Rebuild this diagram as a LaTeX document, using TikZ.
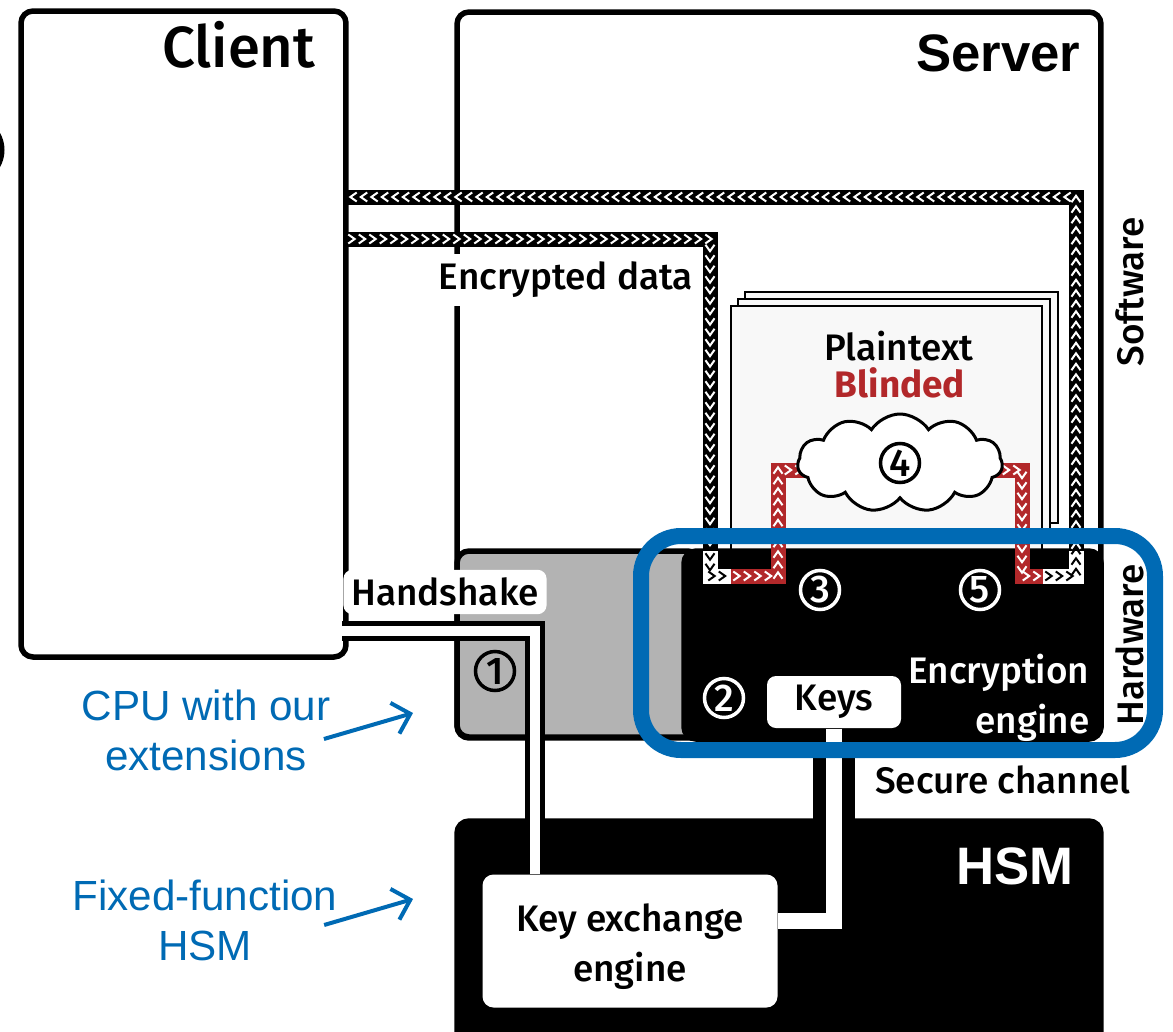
\documentclass[tikz,border=0pt]{standalone}
\usepackage{fontspec}
\usetikzlibrary{arrows.meta, positioning, calc, shapes.symbols, decorations.markings}
\newfontfamily\dinfont{Fira Sans}[UprightFont={* Medium}, BoldFont={* Bold}]
\newfontfamily\arialfont{Liberation Sans}
\definecolor{azulcpu}{RGB}{0, 106, 180}
\definecolor{rojociego}{RGB}{178, 40, 42}
\definecolor{grischip}{RGB}{179, 179, 179}
\definecolor{papel}{RGB}{248, 248, 248}

\begin{document}
\begin{tikzpicture}[
        x=0.1mm, y=-0.1mm,
        caja/.style={
            rectangle,
            rounded corners=1.2mm,
            draw=black,
            line width=0.55mm,
            fill=white,
            inner sep=0pt,
            outer sep=0pt,
            anchor=north west
        },
        hoja/.style={
            rectangle,
            draw=black,
            line width=0.27mm,
            fill=papel,
            inner sep=0pt,
            outer sep=0pt,
            anchor=north west
        },
        pastilla/.style={
            rectangle,
            rounded corners=0.9mm,
            fill=white,
            inner sep=0pt,
            align=center,
            font=\dinfont\fontsize{10.5}{14.2}\selectfont
        },
        texto/.style={inner sep=0pt, align=center, font=\dinfont\fontsize{10.5}{14.2}\selectfont},
        titulo/.style={inner sep=0pt, anchor=east, font=\arialfont\bfseries\fontsize{15}{18}\selectfont},
        nota/.style={inner sep=0pt, align=center, text=azulcpu, font=\arialfont\fontsize{12}{14.2}\selectfont},
        numero/.style={circle, draw, line width=0.35mm, minimum size=3.9mm, inner sep=0pt, font=\dinfont\fontsize{11}{11}\selectfont},
        canal/.style 2 args={
            draw=#1,
            line width=1.5mm,
            postaction={decorate, decoration={markings,
                mark=between positions 0.55mm and 1 step 1.05mm with {
                    \draw[#2, line width=0.2mm] (-0.32mm,0.45mm) -- (0.32mm,0mm) -- (-0.32mm,-0.45mm);
                }}}
        },
        cable/.style={draw=black, line width=0.5mm, double=white, double distance=1mm},
        cableseguro/.style={draw=black, line width=1.3mm, double=white, double distance=1.6mm},
        flecha/.style={-{Straight Barb[length=1.6mm, width=3.2mm]}, line width=0.4mm, draw=azulcpu}
    ]
    \useasboundingbox (0,0) rectangle (1173,1032);

    \begin{scope}
        \clip (0,100) rectangle (40,200);
        \draw[line width=0.5mm] (-30,150) circle[radius=3.2mm];
    \end{scope}

    \node[caja, minimum width=32.5mm, minimum height=64.6mm] (cliente) at (21,11) {};
    \node[caja, minimum width=64.4mm, minimum height=72.6mm] (servidor) at (457,12) {};
    \node[font=\dinfont\fontsize{16.5}{18}\selectfont, anchor=east, inner sep=0pt] (tcliente) at (316,45) {Client};
    \node[titulo] (tservidor) at (1081,53) {Server};

    \node[hoja, minimum width=31.3mm, minimum height=23.1mm] (hoja3) at (745,292) {};
    \node[hoja, minimum width=31.2mm, minimum height=23.8mm] (hoja2) at (738,299) {};
    \node[hoja, minimum width=31.1mm, minimum height=24.5mm] (hoja1) at (731,306) {};

    \node[caja, fill=grischip, minimum width=24.3mm, minimum height=18.6mm] (cpu) at (457,551) {};
    \node[caja, fill=black, minimum width=41.7mm, minimum height=18.8mm] (motor) at (684,551) {};

    \coordinate (ent0) at (cliente.east |- 0,239);
    \coordinate (ent1) at (710,239);
    \coordinate (ent2) at (710,551);
    \coordinate (ent3) at (731,576);
    \coordinate (ent4) at (778,470);
    \coordinate (ent5) at (812,470);
    \coordinate (sal0) at (990,470);
    \coordinate (sal1) at (1022,470);
    \coordinate (sal2) at (1043,576);
    \coordinate (sal3) at (1076,551);
    \coordinate (sal4) at (cliente.east |- 0,197);

    \draw[canal={black}{white}] (ent0) -- (ent1) -- (ent2);
    \draw[canal={white}{black}] (ent2) |- (ent3);
    \draw[canal={rojociego}{white}] (ent3) -| (ent4) -- (ent5);
    \draw[canal={rojociego}{white}] (sal0) -- (sal1) |- (sal2);
    \draw[canal={white}{black}] (sal2) -| (sal3);
    \draw[canal={black}{white}] (sal3) |- (sal4);

    \node[cloud, cloud puffs=11, cloud puff arc=115, aspect=2.1, draw, line width=0.3mm, fill=white, minimum width=20.5mm, minimum height=9.8mm, inner sep=0pt] (nube) at (900,463) {};
    \node[numero] (n4) at (nube.center) {4};

    \node[caja, fill=black, minimum width=64.4mm, minimum height=25mm] (hsm) at (457,821) {};
    \node[titulo, text=white] (thsm) at (1074,866) {HSM};

    \node[pastilla, minimum width=13.4mm, minimum height=5.2mm] (claves) at (834,702) {Keys};
    \node[pastilla, rounded corners=1.1mm, minimum width=29.5mm, minimum height=13.3mm] (kex) at (630,941) {};
    \node[texto] (tkex) at (630,947) {Key exchange\\engine};

    \coordinate (hs0) at (342,631);
    \draw[cable] (hs0) -| ([xshift=-9.5mm]kex.north);
    \draw[cableseguro] (claves.south) |- ([yshift=2mm]kex.east);

    \node[pastilla, inner sep=0.8mm] (handshake) at (445,592) {Handshake};
    \node[texto, fill=white, inner sep=0.8mm] (cifrado) at (566,280) {Encrypted data};
    \node[texto, rotate=90] (software) at (1130,292) {Software};
    \node[texto, rotate=90] (hardware) at (1130,645) {Hardware};
    \node[texto] (plano) at (899,346) {Plaintext};
    \node[texto, text=rojociego, font=\dinfont\bfseries\fontsize{10.5}{14.2}\selectfont] (ciego) at (900,383) {Blinded};
    \node[texto, text=white, align=right, anchor=east] (tmotor) at (1090,698) {Encryption\\engine};
    \node[texto] (seguro) at (1003,780) {Secure channel};

    \node[numero] (n1) at (495,671) {1};
    \node[numero, draw=white, text=white] (n2) at (724,698) {2};
    \node[numero, draw=white, text=white] (n3) at (820,590) {3};
    \node[numero, draw=white, text=white] (n5) at (980,590) {5};

    \node[draw=azulcpu, line width=1.6mm, rounded corners=4mm, minimum width=51.4mm, minimum height=21.4mm, inner sep=0pt, outer sep=0pt, anchor=north west] (marco) at (641,536) {};

    \node[nota] (notacpu) at (206,730) {CPU with our\\extensions};
    \node[nota] (notahsm) at (205,920) {Fixed-function\\HSM};
    \coordinate (puntacpu) at (413,713);
    \coordinate (puntahsm) at (413,899);
    \draw[flecha] ([xshift=-0.7mm, yshift=-0.9mm]notacpu.east) -- (puntacpu);
    \draw[flecha] ([xshift=-1.4mm, yshift=-0.5mm]notahsm.east) -- (puntahsm);
\end{tikzpicture}
\end{document}
